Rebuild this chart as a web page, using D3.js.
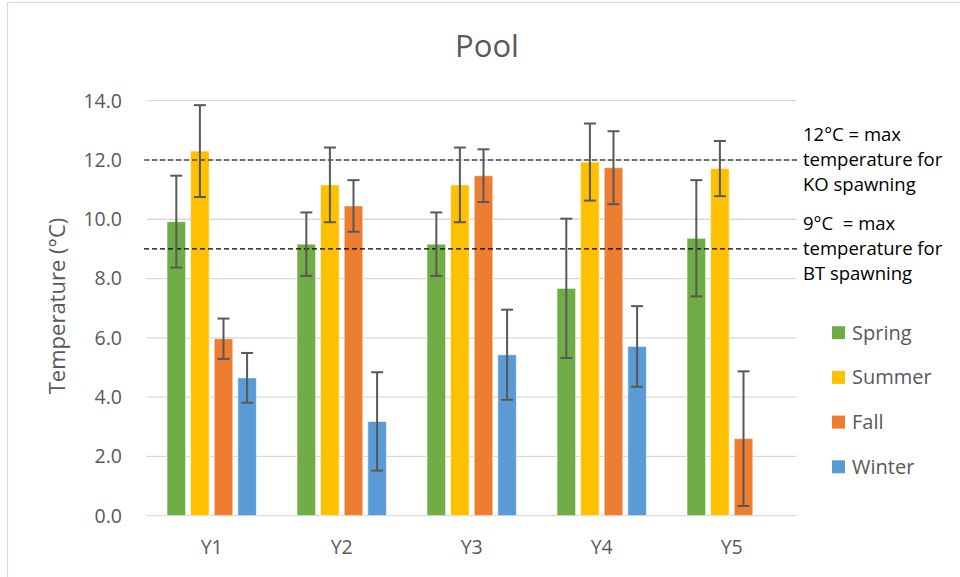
<!DOCTYPE html>
<html>
<head>
<meta charset="utf-8">
<script src="https://cdn.jsdelivr.net/npm/d3@7"></script>
<style>
  body { margin: 0; background: #fff; }
  svg text { font-family: "Open Sans", "Noto Sans", sans-serif; }
</style>
</head>
<body>
<svg id="chart"></svg>
<script>
// data
const years = ["Y1", "Y2", "Y3", "Y4", "Y5"];
const seasons = ["Spring", "Summer", "Fall", "Winter"];
const springMean = [9.92, 9.16, 9.16, 7.67, 9.36];
const summerMean = [12.30, 11.16, 11.16, 11.93, 11.71];
const fallMean   = [5.97, 10.45, 11.47, 11.74, 2.60];
const winterMean = [4.65, 3.18, 5.43, 5.71, null];
const springErr = [1.55, 1.07, 1.07, 2.35, 1.96];
const summerErr = [1.55, 1.26, 1.26, 1.30, 0.93];
const fallErr   = [0.68, 0.87, 0.89, 1.23, 2.27];
const winterErr = [0.84, 1.66, 1.52, 1.36, null];
const yTicks = [0, 2, 4, 6, 8, 10, 12, 14];
const refLines = [
  { value: 12, lines: ["12°C = max", "temperature for", "KO spawning"] },
  { value: 9, lines: ["9°C  = max", "temperature for", "BT spawning"] }
];

const colors = { Spring: "#70AD47", Summer: "#FFC000", Fall: "#ED7D31", Winter: "#5B9BD5" };
const means = { Spring: springMean, Summer: summerMean, Fall: fallMean, Winter: winterMean };
const errs = { Spring: springErr, Summer: summerErr, Fall: fallErr, Winter: winterErr };

const width = 960, height = 577;
const plot = { left: 146.7, right: 796.7, top: 100.7, bottom: 515.7 };

const svg = d3.select("#chart").attr("width", width).attr("height", height);

// chart border
svg.append("rect")
  .attr("x", 7.5).attr("y", 2.5)
  .attr("width", 1000).attr("height", 1000)
  .attr("fill", "none").attr("stroke", "#d9d9d9").attr("stroke-width", 1.2);

// scales
const x0 = d3.scaleBand().domain(years).range([plot.left, plot.right]).padding(0);
const x1 = d3.scaleBand().domain(seasons).range([0, x0.bandwidth()])
  .paddingInner(0.21).paddingOuter(0.86);
const y = d3.scaleLinear().domain([0, 14]).range([plot.bottom, plot.top]);

// gridlines
svg.append("g").selectAll("line")
  .data(yTicks)
  .enter().append("line")
  .attr("x1", plot.left).attr("x2", plot.right)
  .attr("y1", d => y(d)).attr("y2", d => y(d))
  .attr("stroke", "#d9d9d9").attr("stroke-width", 1.3);

// y tick labels
svg.append("g").selectAll("text")
  .data(yTicks)
  .enter().append("text")
  .attr("x", 122).attr("y", d => y(d))
  .attr("dy", "0.35em")
  .attr("text-anchor", "end")
  .attr("fill", "#595959")
  .style("font-size", "19.5px")
  .text(d => d.toFixed(1));

// y axis title
svg.append("text")
  .attr("transform", "translate(65,306) rotate(-90)")
  .attr("text-anchor", "middle")
  .attr("fill", "#595959")
  .style("font-size", "22px")
  .text("Temperature (°C)");

// x labels
svg.append("g").selectAll("text")
  .data(years)
  .enter().append("text")
  .attr("x", d => x0(d) + x0.bandwidth() / 2)
  .attr("y", 554)
  .attr("text-anchor", "middle")
  .attr("fill", "#595959")
  .style("font-size", "19.5px")
  .text(d => d);

// title
svg.append("text")
  .attr("x", 487).attr("y", 57)
  .attr("text-anchor", "middle")
  .attr("fill", "#595959")
  .style("font-size", "31px")
  .text("Pool");

// bars
const barData = [];
years.forEach((yr, i) => {
  seasons.forEach(s => {
    if (means[s][i] != null) barData.push({ year: yr, season: s, mean: means[s][i], err: errs[s][i] });
  });
});

svg.append("g").selectAll("rect")
  .data(barData)
  .enter().append("rect")
  .attr("x", d => x0(d.year) + x1(d.season))
  .attr("y", d => y(d.mean))
  .attr("width", x1.bandwidth())
  .attr("height", d => y(0) - y(d.mean))
  .attr("fill", d => colors[d.season])
  .attr("stroke", "#ffffff")
  .attr("stroke-opacity", 0.6)
  .attr("stroke-width", 1);

// reference dashed lines
svg.append("g").selectAll("line")
  .data(refLines)
  .enter().append("line")
  .attr("x1", 144).attr("x2", 797)
  .attr("y1", d => y(d.value)).attr("y2", d => y(d.value))
  .attr("stroke", "#000").attr("stroke-width", 1.2)
  .attr("stroke-dasharray", "5,3");

// error bars
const eb = svg.append("g").selectAll("g")
  .data(barData)
  .enter().append("g")
  .attr("transform", d => `translate(${x0(d.year) + x1(d.season) + x1.bandwidth() / 2},0)`);
eb.append("line")
  .attr("y1", d => y(d.mean + d.err)).attr("y2", d => y(Math.max(0, d.mean - d.err)))
  .attr("stroke", "#595959").attr("stroke-width", 2);
eb.append("line")
  .attr("x1", -6).attr("x2", 6)
  .attr("y1", d => y(d.mean + d.err)).attr("y2", d => y(d.mean + d.err))
  .attr("stroke", "#595959").attr("stroke-width", 2);
eb.append("line")
  .attr("x1", -6).attr("x2", 6)
  .attr("y1", d => y(Math.max(0, d.mean - d.err))).attr("y2", d => y(Math.max(0, d.mean - d.err)))
  .attr("stroke", "#595959").attr("stroke-width", 2);

// annotations
const ann = svg.append("g");
refLines.forEach((r, k) => {
  const t = ann.append("text")
    .attr("x", 803)
    .attr("y", k === 0 ? 141 : 230)
    .attr("fill", "#000")
    .style("font-size", "18.5px")
    .style("white-space", "pre");
  r.lines.forEach((ln, j) => {
    t.append("tspan").attr("x", 803).attr("dy", j === 0 ? 0 : 25).text(ln);
  });
});

// legend
const legend = svg.append("g").attr("class", "legend");
seasons.forEach((s, i) => {
  const cy = 332.7 + i * 44.7;
  legend.append("rect")
    .attr("x", 832).attr("y", cy - 6.5)
    .attr("width", 13).attr("height", 13)
    .attr("fill", colors[s]);
  legend.append("text")
    .attr("x", 852).attr("y", cy)
    .attr("dy", "0.35em")
    .attr("fill", "#595959")
    .style("font-size", "20px")
    .text(s);
});
</script>
</body>
</html>
